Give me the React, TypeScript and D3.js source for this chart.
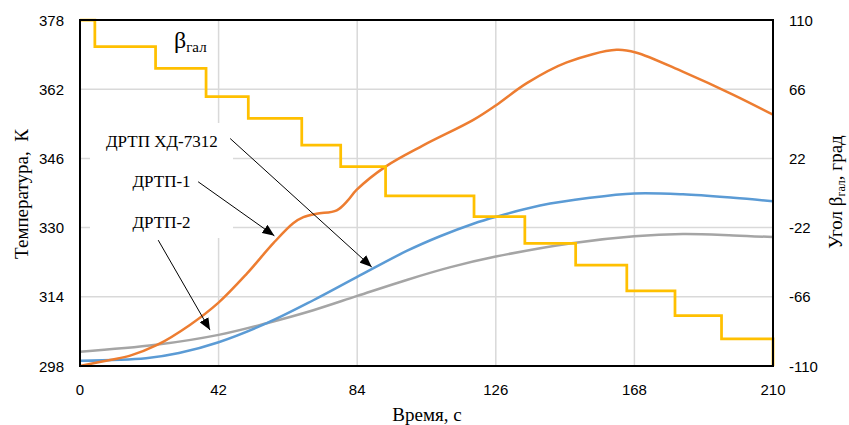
import React from 'react';
import * as d3 from 'd3';

// ---- axis ticks ----
const timeTicks = [0, 42, 84, 126, 168, 210];
const tempTicks = [298, 314, 330, 346, 362, 378];
const angleTicks = [110, 66, 22, -22, -66, -110];

// ---- orange curve ----
const orangeTime = [0, 9.1, 15.2, 23.2, 33.3, 41.9, 50.5, 58.6, 64.6, 67.7, 71.7, 77.8, 81.3, 83.8, 92.6, 104.0, 119.2, 126.1, 135.4, 147.5, 162.6, 168.4, 182.8, 198.0, 210];
const orangeTemp = [298.0, 299.4, 300.4, 302.8, 307.5, 312.6, 319.3, 326.4, 331.0, 332.4, 333.2, 334.0, 336.4, 338.7, 344.1, 349.0, 354.9, 358.3, 363.4, 368.2, 371.1, 370.5, 366.0, 360.7, 356.1];

// ---- blue curve ----
const blueTime = [0, 20, 30, 42, 56.6, 70.7, 84, 99, 109.1, 119.2, 126.1, 139.4, 154.5, 168, 182.7, 198, 210];
const blueTemp = [299.2, 299.8, 301.0, 303.5, 307.9, 313.2, 318.6, 324.6, 328.0, 330.9, 332.5, 335.1, 336.9, 337.9, 337.7, 336.9, 336.1];

// ---- gray curve ----
const grayTime = [0, 23, 42, 56.6, 70.7, 84, 99, 112, 126, 149, 168, 182.7, 198, 210];
const grayTemp = [301.3, 302.9, 305.2, 307.9, 310.9, 314.2, 317.9, 320.8, 323.3, 326.4, 328.0, 328.5, 328.2, 327.8];

// ---- galvanometer angle (step) ----
const stepTime = [0, 4.5, 22.9, 38.2, 51.0, 67.2, 79.0, 92.6, 119.4, 134.8, 150.2, 165.7, 180.3, 194.4, 210];
const stepAngle = [110, 93.0, 79.3, 61.2, 47.5, 30.5, 16.7, -1.9, -15.1, -32.0, -45.8, -62.3, -78.0, -92.8, -110];

// ---- annotations (data coords) ----
const labelTexts = ['ДРТП ХД-7312', 'ДРТП-1', 'ДРТП-2'];
const arrowFromTime = [45.5, 35.8, 23.7];
const arrowFromTemp = [350.6, 340.6, 327.1];
const arrowToTime = [88.4, 58.9, 39.4];
const arrowToTemp = [320.9, 328.1, 306.3];

const W = 849;
const H = 425;
const M = { left: 80, right: 773, top: 20, bottom: 366 };

export default function App() {
  const x = d3.scaleLinear().domain([0, 210]).range([M.left, M.right]);
  const yT = d3.scaleLinear().domain([298, 378]).range([M.bottom, M.top]);
  const yA = d3.scaleLinear().domain([-110, 110]).range([M.bottom, M.top]);

  const smooth = d3
    .line<[number, number]>()
    .x((d) => x(d[0]))
    .y((d) => yT(d[1]))
    .curve(d3.curveCatmullRom.alpha(0.5));
  const step = d3
    .line<[number, number]>()
    .x((d) => x(d[0]))
    .y((d) => yA(d[1]))
    .curve(d3.curveStepAfter);

  const zip = (a: number[], b: number[]) => a.map((v, i) => [v, b[i]] as [number, number]);

  const sans = "'Liberation Sans', Arial, sans-serif";
  const serif = "'Liberation Serif', 'Times New Roman', serif";

  const labelPos = [
    { x: 106, y: 146.5 },
    { x: 132.5, y: 186.5 },
    { x: 132.5, y: 228 },
  ];

  return (
    <svg
      width={W}
      height={H}
      viewBox={`0 0 ${W} ${H}`}
      style={{ position: 'absolute', left: 0, top: 0, background: '#fff' }}
    >
      <defs>
        <marker
          id="ah"
          viewBox="0 0 12 10"
          refX={12}
          refY={5}
          markerWidth={12}
          markerHeight={10}
          markerUnits="userSpaceOnUse"
          orient="auto"
        >
          <path d="M0,0 L12,5 L0,10 z" fill="#000" />
        </marker>
      </defs>
      <rect x={0} y={0} width={W} height={H} fill="#fff" />

      {/* gridlines */}
      <g stroke="#d9d9d9" strokeWidth={1.5}>
        {timeTicks.slice(1, -1).map((t) => (
          <line key={'gx' + t} x1={x(t)} x2={x(t)} y1={M.top} y2={M.bottom} />
        ))}
        {tempTicks.slice(1, -1).map((t) => (
          <line key={'gy' + t} x1={M.left} x2={M.right} y1={yT(t)} y2={yT(t)} />
        ))}
      </g>

      {/* label box (white fill covering gridlines) */}
      <rect x={90} y={123} width={143} height={115} fill="#fff" />

      {/* curves */}
      <path d={smooth(zip(grayTime, grayTemp)) || ''} fill="none" stroke="#a5a5a5" strokeWidth={2.5} />
      <path d={smooth(zip(blueTime, blueTemp)) || ''} fill="none" stroke="#5b9bd5" strokeWidth={2.5} />
      <path d={smooth(zip(orangeTime, orangeTemp)) || ''} fill="none" stroke="#ed7d31" strokeWidth={2.5} />
      <path d={step(zip(stepTime, stepAngle)) || ''} fill="none" stroke="#ffc000" strokeWidth={2.75} />

      {/* frame */}
      <rect
        x={M.left}
        y={M.top}
        width={M.right - M.left}
        height={M.bottom - M.top}
        fill="none"
        stroke="#000"
        strokeWidth={2}
      />

      {/* tick labels */}
      <g fontFamily={sans} fontSize={15} fill="#000">
        {tempTicks.map((t) => (
          <text key={'lt' + t} x={64} y={yT(t)} textAnchor="end" dominantBaseline="central">
            {t}
          </text>
        ))}
        {angleTicks.map((a) => (
          <text key={'rt' + a} x={789} y={yA(a)} textAnchor="start" dominantBaseline="central">
            {a < 0 ? '-' + Math.abs(a) : a}
          </text>
        ))}
        {timeTicks.map((t) => (
          <text key={'bt' + t} x={x(t)} y={389} textAnchor="middle" dominantBaseline="central">
            {t}
          </text>
        ))}
      </g>

      {/* axis titles */}
      <g fontFamily={serif} fill="#000" fontSize={19}>
        <text x={427} y={421} textAnchor="middle">
          Время, с
        </text>
        <text transform="translate(28,194) rotate(-90)" textAnchor="middle">
          Температура,{'\u00a0\u00a0'}К
        </text>
        <text transform="translate(842,192) rotate(-90)" textAnchor="middle">
          Угол β
          <tspan fontSize={12} dy={3}>
            гал
          </tspan>
          <tspan dy={-3}>, град</tspan>
        </text>
      </g>

      {/* beta label */}
      <text x={174} y={48} fontFamily={serif} fontSize={24} fill="#000">
        β
        <tspan fontSize={15} dy={4}>
          гал
        </tspan>
      </text>

      {/* arrows */}
      <g stroke="#000" strokeWidth={1}>
        {labelTexts.map((_, i) => (
          <line
            key={'ar' + i}
            x1={x(arrowFromTime[i])}
            y1={yT(arrowFromTemp[i])}
            x2={x(arrowToTime[i])}
            y2={yT(arrowToTemp[i])}
            markerEnd="url(#ah)"
          />
        ))}
      </g>

      {/* labels */}
      <g fontFamily={serif} fontSize={17} fill="#000">
        {labelTexts.map((s, i) => (
          <text key={'lb' + i} x={labelPos[i].x} y={labelPos[i].y}>
            {s}
          </text>
        ))}
      </g>
    </svg>
  );
}
